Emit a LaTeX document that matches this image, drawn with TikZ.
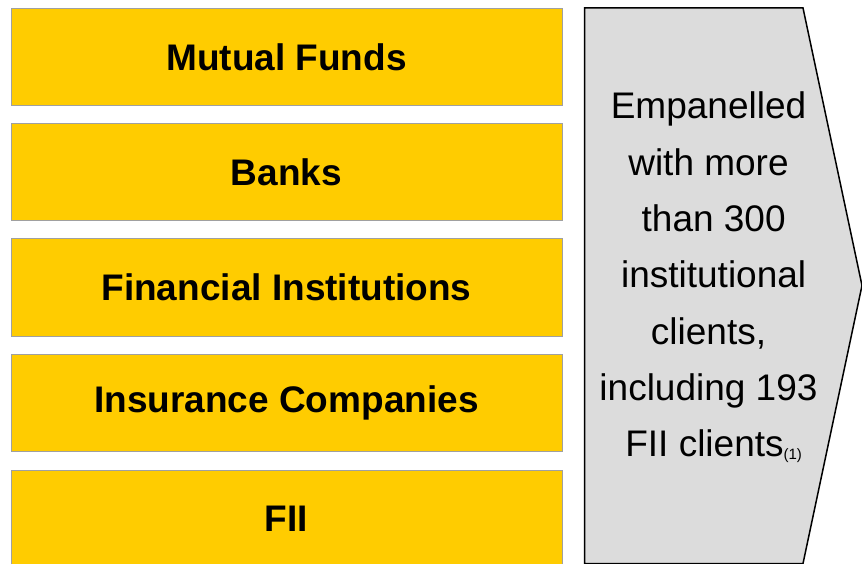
\documentclass[tikz,border=0pt]{standalone}
\usepackage{fontspec}
\setmainfont{Liberation Sans}
\definecolor{boxyellow}{HTML}{FFCC00}
\definecolor{boxedge}{HTML}{A0A0A0}
\definecolor{chevfill}{HTML}{DCDCDC}
\tikzset{
  catbox/.style={draw=boxedge, line width=1pt, fill=boxyellow, minimum width=551pt, minimum height=97pt,
    inner sep=0pt, font=\fontsize{37}{44}\selectfont\bfseries},
  chevtext/.style={align=center, inner sep=0pt, font=\fontsize{37}{56.3}\selectfont}
}
\begin{document}
\begin{tikzpicture}[x=1pt,y=-1pt]
\clip (0,0) rectangle (862,564);
\fill[white] (0,0) rectangle (862,564);
\node[catbox] (mf) at (286.5,57.5) {Mutual Funds};
\node[catbox] (bk) at (286.5,172.5) {Banks};
\node[catbox] (fi) at (286.5,287.5) {Financial Institutions};
\node[catbox] (ic) at (286.5,402.5) {Insurance Companies};
\node[catbox] (fii) at (286.5,518.5) {FII};
\coordinate (c1) at (584.5,8);
\coordinate (c2) at (803,8);
\coordinate (c3) at (862,285.5);
\coordinate (c4) at (803,563.5);
\coordinate (c5) at (584.5,563.5);
\draw[line width=1.5pt, fill=chevfill, line join=miter] (c1) -- (c2) -- (c3) -- (c4) -- (c5) -- cycle;
\node[chevtext] (txt) at (708.5,277.5) {Empanelled\\with more\\\hspace*{10.3pt}than 300\\\hspace*{10.3pt}institutional\\clients,\\including 193\\\hspace*{10.3pt}FII clients{\fontsize{15}{16}\selectfont\raisebox{-3pt}{(1)}}};
\end{tikzpicture}
\end{document}
